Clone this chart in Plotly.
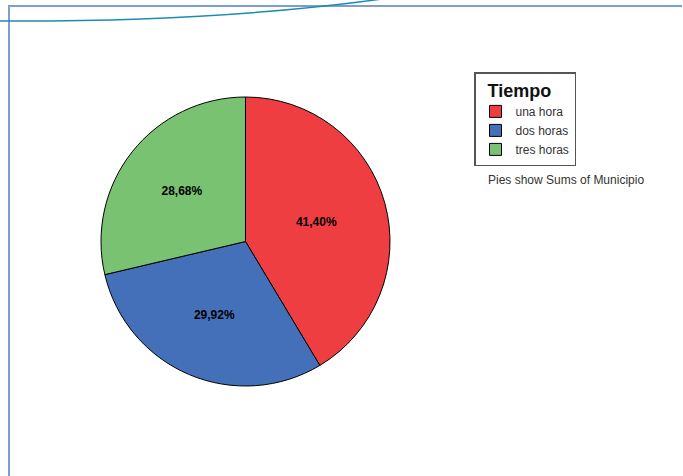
import plotly.graph_objects as go

categories = ["una hora", "dos horas", "tres horas"]
percentages = [41.40, 29.92, 28.68]
colors = ["#EF3E42", "#4470B9", "#78C272"]
labels_text = [f"{v:.2f}".replace(".", ",") + "%" for v in percentages]

W, H = 683, 476

def px(x):
    return x / W

def py(y):
    return 1 - y / H

fig = go.Figure(go.Pie(
    labels=categories,
    values=percentages,
    text=labels_text,
    textinfo="text",
    textposition="inside",
    insidetextorientation="horizontal",
    sort=False,
    direction="clockwise",
    rotation=0,
    marker=dict(colors=colors, line=dict(color="#000000", width=1)),
    textfont=dict(family="Liberation Sans, Arial, sans-serif", size=12, color="#000000", weight="bold"),
    domain=dict(x=[px(100), px(391)], y=[py(386), py(97)]),
    hoverinfo="label+percent",
))

line_col = "#7E9ED2"
shapes = [
    dict(type="line", xref="paper", yref="paper", x0=px(9), x1=px(9), y0=py(5), y1=py(476),
         line=dict(color=line_col, width=2)),
    dict(type="line", xref="paper", yref="paper", x0=px(8), x1=px(682), y0=py(6), y1=py(6),
         line=dict(color=line_col, width=2)),
    dict(type="path", xref="paper", yref="paper",
         path=f"M {px(0)},{py(21)} Q {px(215)},{py(22)} {px(382)},{py(-1)}",
         line=dict(color="#1A8CB4", width=1.5)),
]

fig.update_layout(
    width=W, height=H,
    margin=dict(l=0, r=0, t=0, b=0),
    paper_bgcolor="white",
    plot_bgcolor="white",
    shapes=shapes,
    showlegend=True,
    legend=dict(
        x=px(474), y=py(72), xanchor="left", yanchor="top",
        bordercolor="#555555", borderwidth=1.5, bgcolor="white",
        title=dict(text="&nbsp;&nbsp;<b>Tiempo</b>", side="top",
                   font=dict(family="Liberation Sans, Arial, sans-serif", size=18, color="#111111")),
        font=dict(family="Liberation Sans, Arial, sans-serif", size=12, color="#333333"),
        tracegroupgap=0, itemwidth=30,
    ),
    annotations=[
        dict(text="Pies show Sums of Municipio", xref="paper", yref="paper",
             x=px(486), y=py(180), xanchor="left", yanchor="middle", showarrow=False,
             font=dict(family="Liberation Sans, Arial, sans-serif", size=12, color="#333333")),
    ],
)

fig.write_html("out.html", config={"displayModeBar": False},
               post_script="document.body.style.margin='0';document.body.style.overflow='hidden';")
